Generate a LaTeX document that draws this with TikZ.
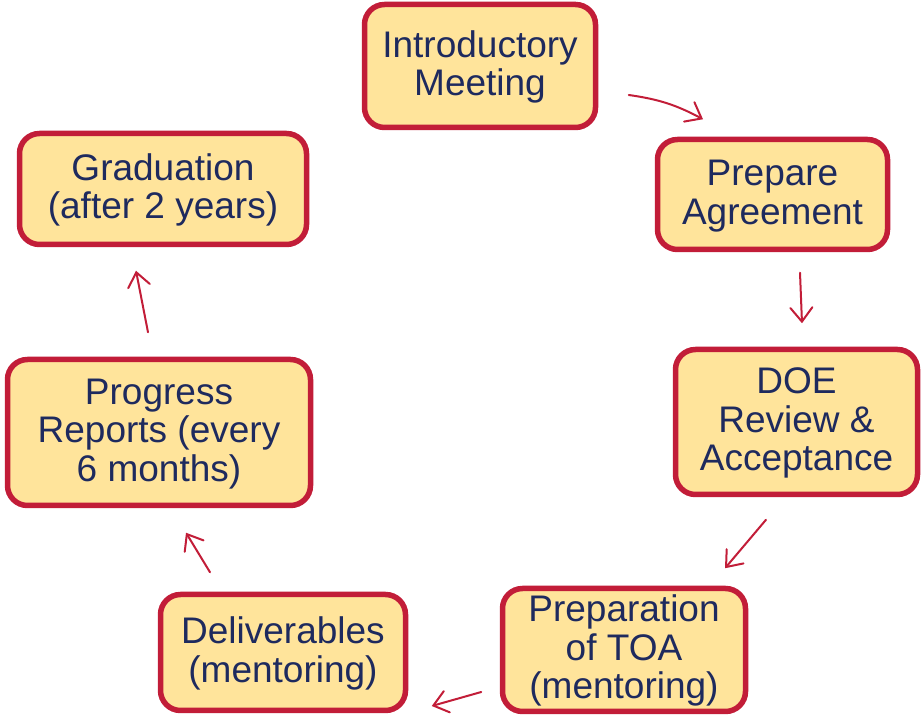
\documentclass[tikz,border=0pt]{standalone}
\usepackage{fontspec}
\setmainfont{Liberation Sans}
\usetikzlibrary{arrows.meta}
\definecolor{boxfill}{HTML}{FFE49B}
\definecolor{boxline}{HTML}{C21D38}
\definecolor{boxtext}{HTML}{1E2A5E}
\newcommand{\boxlines}[1]{\raisebox{-2.7pt}[\height][\depth]{\begin{tabular}{@{}c@{}}#1\end{tabular}}}
\tikzset{
  stepbox/.style={draw=boxline, fill=boxfill, line width=5.5pt, rounded corners=20pt,
    text=boxtext, inner sep=0pt,
    font=\fontsize{37}{38.4}\selectfont},
  arr/.style={draw=boxline, line width=2pt, line cap=round,
    -{Straight Barb[length=14pt,width=22pt,line cap=round]}}
}
\begin{document}
\begin{tikzpicture}[x=1pt,y=1pt]
\useasboundingbox (0,0) rectangle (923,717);
\node[stepbox, minimum width=231pt, minimum height=123pt] (n1) at (480,651) {\boxlines{Introductory\\Meeting}};
\node[stepbox, minimum width=230pt, minimum height=110pt] (n2) at (772.5,522.5) {\boxlines{Prepare\\Agreement}};
\node[stepbox, minimum width=242pt, minimum height=145pt] (n3) at (796.5,295) {\boxlines{DOE\\Review \&\\Acceptance}};
\node[stepbox, minimum width=243pt, minimum height=123pt] (n4) at (624,67) {\boxlines{Preparation\\of TOA\\(mentoring)}};
\node[stepbox, minimum width=245pt, minimum height=116pt] (n5) at (283,64.5) {\boxlines{Deliverables\\(mentoring)}};
\node[stepbox, minimum width=303pt, minimum height=146pt] (n6) at (159,284.5) {\boxlines{Progress\\Reports (every\\6 months)}};
\node[stepbox, minimum width=287pt, minimum height=111pt] (n7) at (163,528) {\boxlines{Graduation\\(after 2 years)}};

\draw[arr] ([shift={(30.5,-29)}]n1.east) to[bend left=10] ([shift={(-69.5,17.5)}]n2.north);
\draw[arr] ([shift={(27.5,-20.5)}]n2.south) -- ([shift={(5.5,23.5)}]n3.north);
\draw[arr] ([shift={(-30.5,-22.5)}]n3.south) -- ([shift={(101,17.5)}]n4.north);
\draw[arr] ([shift={(-18.5,-42)}]n4.west) -- ([shift={(23.5,-53.5)}]n5.east);
\draw[arr] ([shift={(-73,19.5)}]n5.north) -- ([shift={(27,-24.5)}]n6.south);
\draw[arr] ([shift={(-11,24.5)}]n6.north) -- ([shift={(-27,-23.5)}]n7.south);
\end{tikzpicture}
\end{document}
